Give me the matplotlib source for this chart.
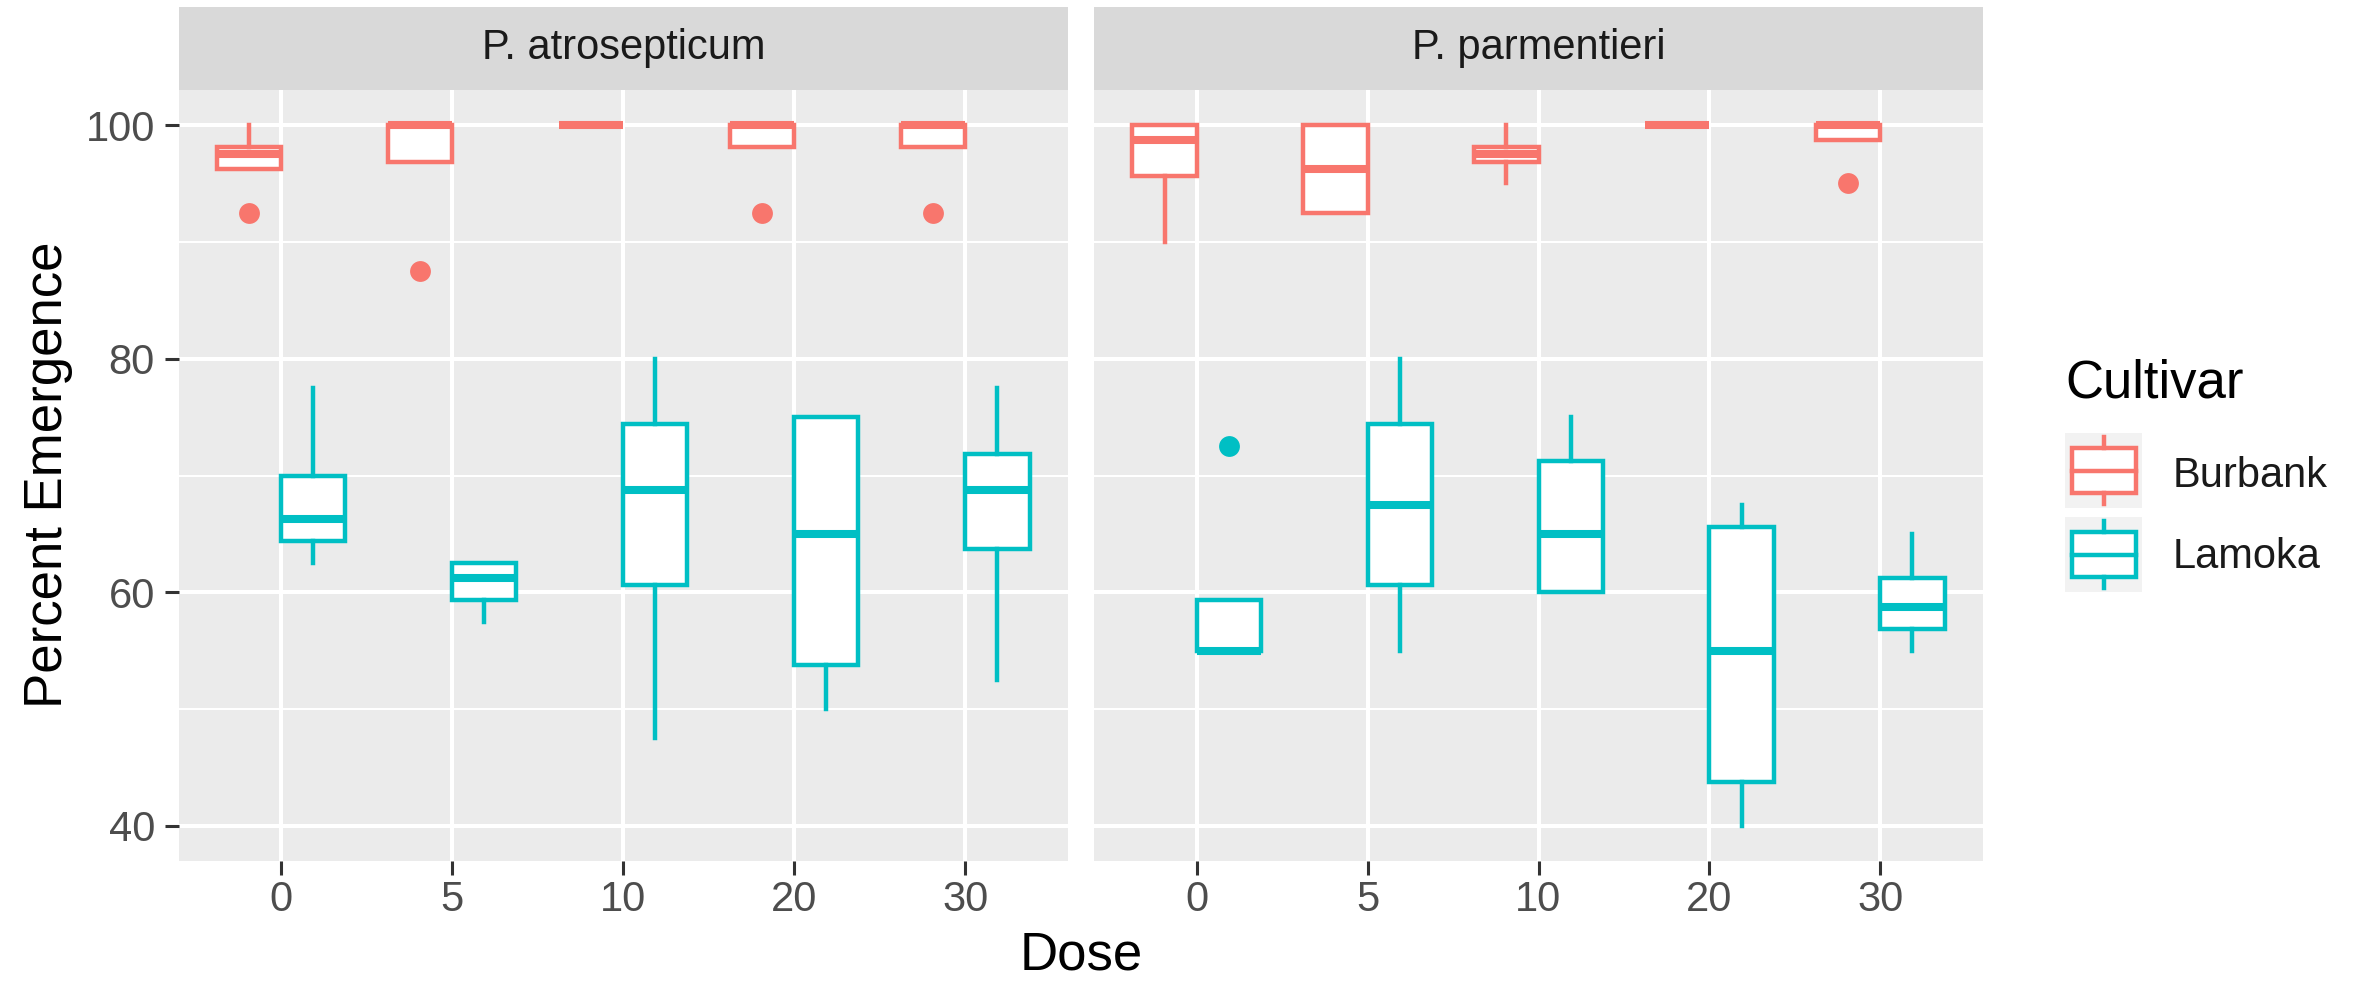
import matplotlib
matplotlib.use("Agg")
import matplotlib.pyplot as plt
from matplotlib.patches import Rectangle
from matplotlib.lines import Line2D

plt.rcParams['font.family'] = ['Liberation Sans', 'DejaVu Sans']

# ---------------- data ----------------
doses = ["0", "5", "10", "20", "30"]
facets = ["P. atrosepticum", "P. parmentieri"]
cultivars = ["Burbank", "Lamoka"]
colors = {"Burbank": "#F8766D", "Lamoka": "#00BFC4"}

# boxplot statistics per facet / cultivar: (whislo, q1, med, q3, whishi)
atro_burbank_lo  = [96.25, 96.875, 100.0, 98.125, 98.125]
atro_burbank_q1  = [96.25, 96.875, 100.0, 98.125, 98.125]
atro_burbank_med = [97.5, 100.0, 100.0, 100.0, 100.0]
atro_burbank_q3  = [98.125, 100.0, 100.0, 100.0, 100.0]
atro_burbank_hi  = [100.0, 100.0, 100.0, 100.0, 100.0]
atro_burbank_out = [[92.5], [87.5], [], [92.5], [92.5]]

atro_lamoka_lo  = [62.5, 57.5, 47.5, 50.0, 52.5]
atro_lamoka_q1  = [64.375, 59.375, 60.625, 53.75, 63.75]
atro_lamoka_med = [66.25, 61.25, 68.75, 65.0, 68.75]
atro_lamoka_q3  = [70.0, 62.5, 74.375, 75.0, 71.875]
atro_lamoka_hi  = [77.5, 62.5, 80.0, 75.0, 77.5]
atro_lamoka_out = [[], [], [], [], []]

parm_burbank_lo  = [90.0, 92.5, 95.0, 100.0, 98.75]
parm_burbank_q1  = [95.625, 92.5, 96.875, 100.0, 98.75]
parm_burbank_med = [98.75, 96.25, 97.5, 100.0, 100.0]
parm_burbank_q3  = [100.0, 100.0, 98.125, 100.0, 100.0]
parm_burbank_hi  = [100.0, 100.0, 100.0, 100.0, 100.0]
parm_burbank_out = [[], [], [], [], [95.0]]

parm_lamoka_lo  = [55.0, 55.0, 60.0, 40.0, 55.0]
parm_lamoka_q1  = [55.0, 60.625, 60.0, 43.75, 56.875]
parm_lamoka_med = [55.0, 67.5, 65.0, 55.0, 58.75]
parm_lamoka_q3  = [59.375, 74.375, 71.25, 65.625, 61.25]
parm_lamoka_hi  = [59.375, 80.0, 75.0, 67.5, 65.0]
parm_lamoka_out = [[72.5], [], [], [], []]

y_ticks = [40, 60, 80, 100]
y_minor = [50, 70, 90]

data = {
    ("P. atrosepticum", "Burbank"): (atro_burbank_lo, atro_burbank_q1, atro_burbank_med, atro_burbank_q3, atro_burbank_hi, atro_burbank_out),
    ("P. atrosepticum", "Lamoka"): (atro_lamoka_lo, atro_lamoka_q1, atro_lamoka_med, atro_lamoka_q3, atro_lamoka_hi, atro_lamoka_out),
    ("P. parmentieri", "Burbank"): (parm_burbank_lo, parm_burbank_q1, parm_burbank_med, parm_burbank_q3, parm_burbank_hi, parm_burbank_out),
    ("P. parmentieri", "Lamoka"): (parm_lamoka_lo, parm_lamoka_q1, parm_lamoka_med, parm_lamoka_q3, parm_lamoka_hi, parm_lamoka_out),
}

# ---------------- layout ----------------
W, H = 2354, 983
fig = plt.figure(figsize=(W / 100, H / 100), dpi=100)
fig.patch.set_facecolor("white")

panel_top, panel_bot = 90, 861
panel_h = panel_bot - panel_top
strip_top = 7
panels = [(178.5, 889.5), (1094.0, 889.0)]

BOX_LW = 3.2
MED_LW = 5.8
small_fs = 30
title_fs = 38

axes = []
for i, (facet, (x0, w)) in enumerate(zip(facets, panels)):
    ax = fig.add_axes([x0 / W, 1 - panel_bot / H, w / W, panel_h / H])
    axes.append(ax)
    ax.set_facecolor("#EBEBEB")
    for s in ax.spines.values():
        s.set_visible(False)
    ax.set_xlim(-0.6, len(doses) - 0.4)
    ax.set_ylim(37, 103)
    # grid
    for yv in y_minor:
        ax.axhline(yv, color="white", lw=1.5, zorder=0.5)
    for yv in y_ticks:
        ax.axhline(yv, color="white", lw=2.9, zorder=0.6)
    for xi in range(len(doses)):
        ax.axvline(xi, color="white", lw=2.9, zorder=0.6)

    for j, cv in enumerate(cultivars):
        lo, q1, med, q3, hi, out = data[(facet, cv)]
        stats = []
        for k in range(len(doses)):
            stats.append(dict(whislo=lo[k], q1=q1[k], med=med[k], q3=q3[k],
                              whishi=hi[k], fliers=out[k]))
        offset = -0.1875 if j == 0 else 0.1875
        pos = [k + offset for k in range(len(doses))]
        col = colors[cv]
        ax.bxp(stats, positions=pos, widths=0.375, patch_artist=True,
               showcaps=False, manage_ticks=False,
               boxprops=dict(facecolor="white", edgecolor=col, linewidth=BOX_LW),
               medianprops=dict(color=col, linewidth=MED_LW, solid_capstyle="butt"),
               whiskerprops=dict(color=col, linewidth=BOX_LW),
               flierprops=dict(marker="o", markerfacecolor=col, markeredgecolor=col,
                               markeredgewidth=0, markersize=15),
               zorder=2)

    ax.set_xticks(range(len(doses)))
    ax.set_xticklabels(doses)
    ax.tick_params(axis="x", length=10, width=2.2, color="#333333",
                   labelsize=small_fs, labelcolor="#4D4D4D", pad=4)
    if i == 0:
        ax.set_yticks(y_ticks)
        ax.set_yticklabels([str(v) for v in y_ticks])
        ax.tick_params(axis="y", length=10, width=2.2, color="#333333",
                       labelsize=small_fs, labelcolor="#4D4D4D", pad=7)
    else:
        ax.set_yticks(y_ticks)
        ax.tick_params(axis="y", length=0, labelleft=False)

    # strip
    sh = (panel_top - strip_top) / panel_h
    ax.add_patch(Rectangle((0, 1), 1, sh, transform=ax.transAxes,
                           facecolor="#D9D9D9", edgecolor="none", clip_on=False))
    ax.text(0.5, 1 + sh / 2, facet, transform=ax.transAxes, ha="center",
            va="center", fontsize=small_fs, color="#1A1A1A")

# axis titles
fig.text(1081 / W, 2 / H, "Dose", ha="center", va="bottom",
         fontsize=title_fs, color="black")
fig.text(62 / W, 1 - 475 / H, "Percent Emergence", rotation=90,
         rotation_mode="anchor", ha="center", va="baseline",
         fontsize=title_fs, color="black")

# legend (drawn in pixel coordinates)
lax = fig.add_axes([2000 / W, 0, (W - 2000) / W, 1])
lax.set_xlim(2000, W)
lax.set_ylim(H, 0)
lax.axis("off")
lax.text(2065, 397, "Cultivar", ha="left", va="baseline", fontsize=title_fs, color="black")
key_tops = [433, 517]
baselines = [487, 568]
for cv, kt, bl in zip(cultivars, key_tops, baselines):
    col = colors[cv]
    lax.add_patch(Rectangle((2065, kt), 77, 75, facecolor="#F2F2F2", edgecolor="none"))
    lax.add_patch(Rectangle((2072, kt + 15), 64, 45, facecolor="white",
                            edgecolor=col, linewidth=BOX_LW))
    lax.add_line(Line2D([2072, 2136], [kt + 37.5, kt + 37.5], color=col, lw=BOX_LW))
    lax.add_line(Line2D([2104, 2104], [kt + 4, kt + 15], color=col, lw=BOX_LW))
    lax.add_line(Line2D([2104, 2104], [kt + 60, kt + 71], color=col, lw=BOX_LW))
    lax.text(2173, bl, cv, ha="left", va="baseline", fontsize=small_fs, color="#1A1A1A")

fig.savefig("out.png", dpi=100, facecolor="white")
